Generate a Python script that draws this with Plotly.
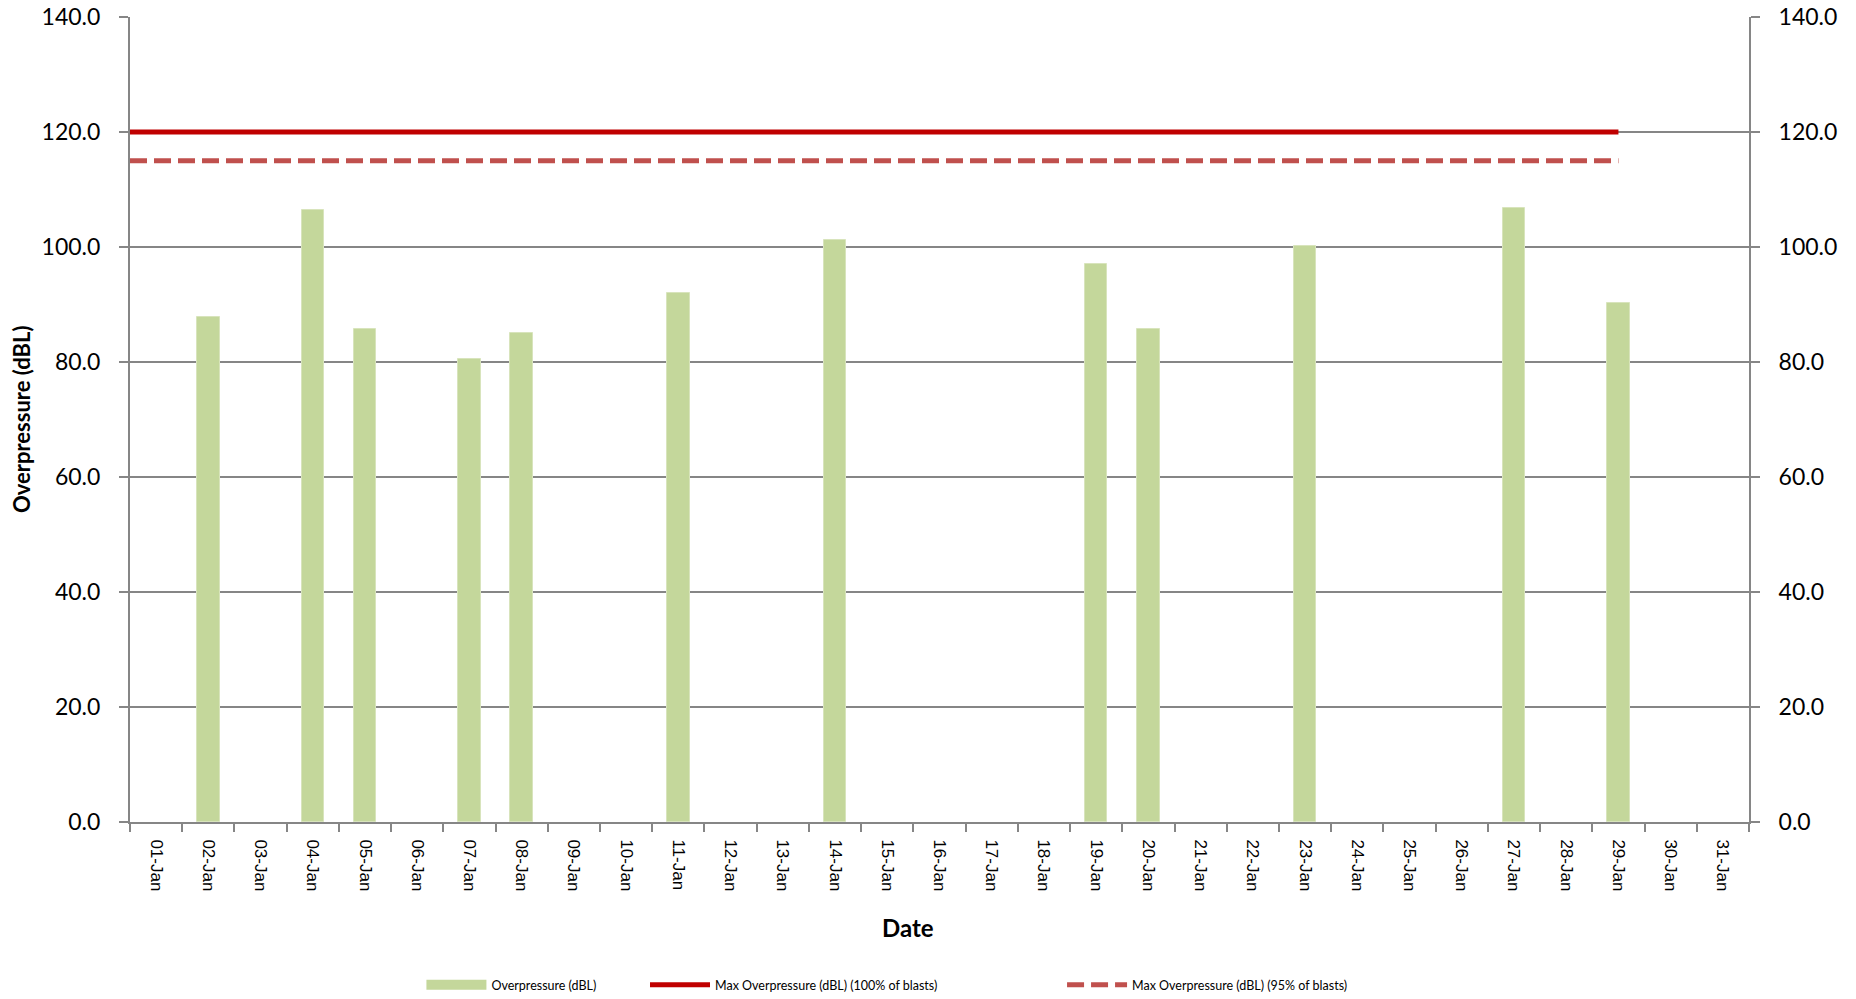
import plotly.graph_objects as go

# ---- data ----
date_labels = [f"{d:02d}-Jan" for d in range(1, 32)]
bar_dates = ["02-Jan", "04-Jan", "05-Jan", "07-Jan", "08-Jan", "11-Jan",
             "14-Jan", "19-Jan", "20-Jan", "23-Jan", "27-Jan", "29-Jan"]
bar_values = [87.8, 106.5, 85.7, 80.6, 85.0, 92.0,
              101.3, 97.0, 85.7, 100.1, 106.8, 90.2]
limit_100 = 120.0
limit_95 = 115.0
limit_last_date = "29-Jan"
y_ticks = [0, 20, 40, 60, 80, 100, 120, 140]

# positions on a numeric axis: category i -> i+1
pos = {lab: i + 1 for i, lab in enumerate(date_labels)}
x_range = [0.5, len(date_labels) + 0.5]
bar_x = [pos[d] for d in bar_dates]
line_x = [x_range[0], pos[limit_last_date]]

GRID = "#868686"
BAR = "#C4D79B"
LEGFONT = dict(family="Lato, 'Open Sans', sans-serif", size=12.5, color="#000000")

fig = go.Figure()

fig.add_trace(go.Bar(
    x=bar_x, y=bar_values, width=0.43,
    marker=dict(color=BAR, line=dict(color="#D8E4BC", width=1)),
    name="Overpressure (dBL)", showlegend=False,
))
# legend swatch for the bars (wide flat rectangle like the original)
fig.add_trace(go.Scatter(
    x=[None], y=[None], mode="lines", line=dict(color=BAR, width=11),
    name="Overpressure (dBL)", legend="legend",
))
fig.add_trace(go.Scatter(
    x=line_x, y=[limit_100] * len(line_x), mode="lines",
    line=dict(color="#C00000", width=5),
    name="Max Overpressure (dBL) (100% of blasts)", legend="legend2",
))
fig.add_trace(go.Scatter(
    x=line_x, y=[limit_95] * len(line_x), mode="lines",
    line=dict(color="#C0504D", width=5, dash="17px,7px"),
    name="Max Overpressure (dBL) (95% of blasts)", legend="legend3",
))
# invisible trace to drive the right-hand axis
fig.add_trace(go.Scatter(x=[x_range[0]], y=[0], yaxis="y2", mode="markers",
                         marker=dict(opacity=0), showlegend=False, hoverinfo="skip"))

yfont = dict(family="Lato, 'Open Sans', sans-serif", size=23, color="#000000")

def leg(x):
    return dict(orientation="h", x=x, xanchor="left", y=-0.2025, yanchor="middle",
                font=LEGFONT, itemwidth=60, bgcolor="rgba(0,0,0,0)")

fig.update_layout(
    width=1856, height=999,
    margin=dict(l=130, r=107, t=17, b=177, autoexpand=False),
    paper_bgcolor="white", plot_bgcolor="white",
    showlegend=True,
    bargap=0,
    xaxis=dict(
        range=x_range, tickmode="array", automargin=False,
        tickvals=list(range(1, len(date_labels) + 1)), ticktext=date_labels,
        tickangle=90, ticks="", ticklabelstandoff=12,
        tickfont=dict(family="Liberation Sans, Arial, sans-serif", size=17, color="#000000"),
        showgrid=False, zeroline=False,
        showline=True, linecolor=GRID, linewidth=2,
        minor=dict(tickmode="array",
                   tickvals=[i + 0.5 for i in range(0, len(date_labels) + 1)],
                   ticks="outside", ticklen=8, tickcolor=GRID, tickwidth=2,
                   showgrid=False),
    ),
    yaxis=dict(
        range=[y_ticks[0], y_ticks[-1]], tickmode="array", tickvals=y_ticks,
        automargin=False, ticklabeloverflow="allow",
        tickformat=".1f", tickfont=yfont,
        ticks="outside", ticklen=9, tickcolor=GRID, tickwidth=2,
        ticklabelstandoff=14,
        showgrid=True, gridcolor=GRID, gridwidth=2,
        zeroline=False, showline=True, linecolor=GRID, linewidth=2,
    ),
    yaxis2=dict(
        range=[y_ticks[0], y_ticks[-1]], tickmode="array", tickvals=y_ticks,
        automargin=False, ticklabeloverflow="allow",
        tickformat=".1f", tickfont=yfont, overlaying="y", side="right",
        ticks="outside", ticklen=9, tickcolor=GRID, tickwidth=2,
        ticklabelstandoff=14,
        showgrid=False, zeroline=False, showline=True, linecolor=GRID, linewidth=2,
    ),
    legend=leg(0.18),
    legend2=leg(0.3181),
    legend3=leg(0.5757),
    annotations=[
        dict(text="<b>Date</b>", x=0.4805, y=-0.131, xref="paper", yref="paper",
             xanchor="center", yanchor="middle", showarrow=False,
             font=dict(family="Lato, 'Open Sans', sans-serif", size=24, color="#000000")),
        dict(text="<b>Overpressure (dBL)</b>", x=-0.067, y=0.5, xref="paper", yref="paper",
             xanchor="center", yanchor="middle", showarrow=False, textangle=-90,
             font=dict(family="Lato, 'Open Sans', sans-serif", size=22, color="#000000")),
    ],
)

# remove the browser's default 8px body margin so the figure sits at the page origin
fig.write_html("out.html",
               config={"displayModeBar": False},
               post_script="document.body.style.margin='0';document.body.style.padding='0';")
